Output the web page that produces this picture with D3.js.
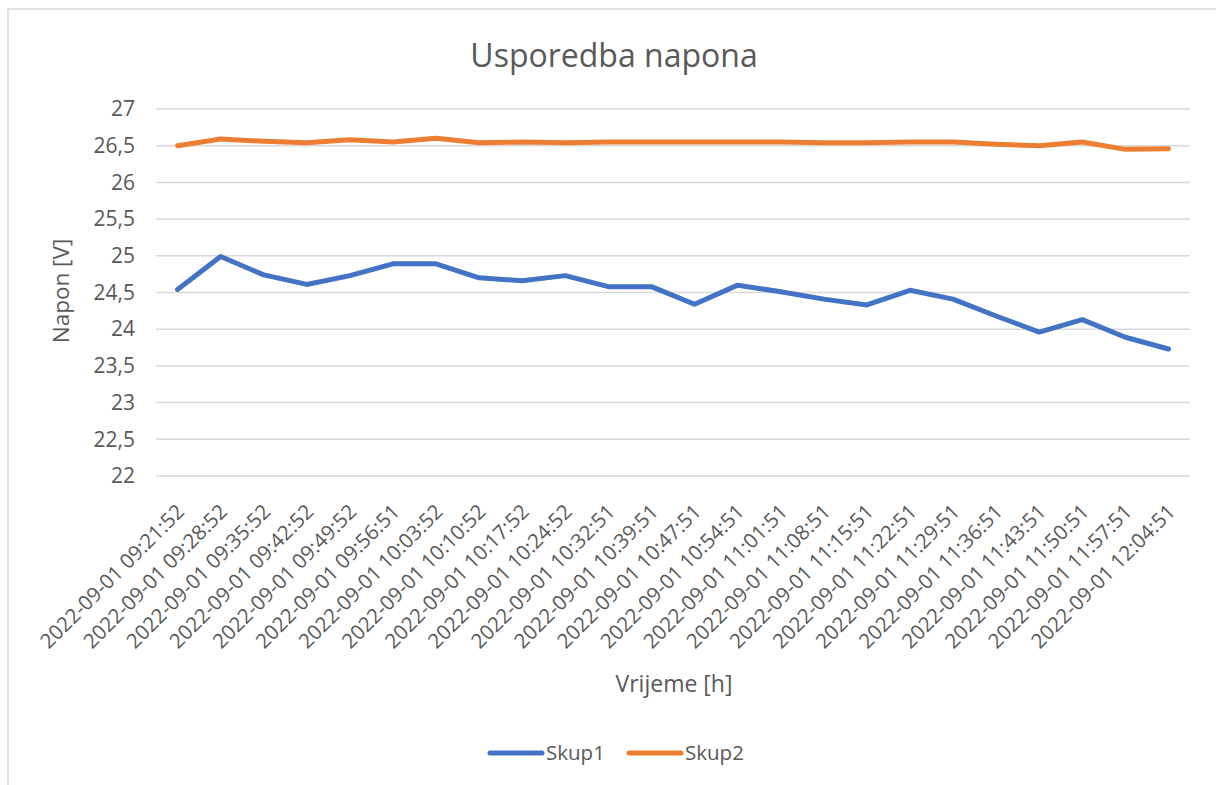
<!DOCTYPE html>
<html>
<head>
<meta charset="utf-8">
<script src="https://cdn.jsdelivr.net/npm/d3@7"></script>
<style>
  body { margin: 0; background: #fff; }
  text { font-family: "Open Sans", "Liberation Sans", sans-serif; fill: #595959; }
</style>
</head>
<body>
<script>
var times = ["2022-09-01 09:21:52", "2022-09-01 09:28:52", "2022-09-01 09:35:52", "2022-09-01 09:42:52",
  "2022-09-01 09:49:52", "2022-09-01 09:56:51", "2022-09-01 10:03:52", "2022-09-01 10:10:52",
  "2022-09-01 10:17:52", "2022-09-01 10:24:52", "2022-09-01 10:32:51", "2022-09-01 10:39:51",
  "2022-09-01 10:47:51", "2022-09-01 10:54:51", "2022-09-01 11:01:51", "2022-09-01 11:08:51",
  "2022-09-01 11:15:51", "2022-09-01 11:22:51", "2022-09-01 11:29:51", "2022-09-01 11:36:51",
  "2022-09-01 11:43:51", "2022-09-01 11:50:51", "2022-09-01 11:57:51", "2022-09-01 12:04:51"];

var skup1 = [24.54, 24.99, 24.74, 24.61, 24.73, 24.89, 24.89, 24.70, 24.66, 24.73, 24.58, 24.58,
  24.34, 24.60, 24.51, 24.41, 24.33, 24.53, 24.41, 24.18, 23.96, 24.13, 23.89, 23.73];

var skup2 = [26.50, 26.59, 26.56, 26.54, 26.58, 26.55, 26.60, 26.54, 26.55, 26.54, 26.55, 26.55,
  26.55, 26.55, 26.55, 26.54, 26.54, 26.55, 26.55, 26.52, 26.50, 26.55, 26.45, 26.46];

var yTicks = [22, 22.5, 23, 23.5, 24, 24.5, 25, 25.5, 26, 26.5, 27];

var seriesNames = ["Skup1", "Skup2"];
var colors = ["#4472C4", "#ED7D31"];

var w = 1216, h = 785;
var plotLeft = 156, plotRight = 1190, plotTop = 109, plotBottom = 476;

var svg = d3.select("body").append("svg")
  .attr("width", w)
  .attr("height", h);

// chart frame
svg.append("rect")
  .attr("x", 8).attr("y", 9)
  .attr("width", 1220).attr("height", 800)
  .attr("fill", "#fff")
  .attr("stroke", "#d9d9d9")
  .attr("stroke-width", 1.5);

var xScale = d3.scaleBand().domain(times).range([plotLeft, plotRight]).padding(0);
var yScale = d3.scaleLinear().domain([22, 27]).range([plotBottom, plotTop]);

// gridlines
svg.append("g")
  .selectAll("line")
  .data(yTicks)
  .enter().append("line")
  .attr("x1", plotLeft).attr("x2", plotRight)
  .attr("y1", function(d) { return yScale(d); })
  .attr("y2", function(d) { return yScale(d); })
  .attr("stroke", "#d9d9d9")
  .attr("stroke-width", 1.5);

// y axis labels
var yAxis = d3.axisLeft(yScale).tickValues(yTicks).tickSize(0).tickPadding(0)
  .tickFormat(function(d) { return String(d).replace(".", ","); });
var gy = svg.append("g").attr("transform", "translate(135,0)").call(yAxis);
gy.select(".domain").remove();
gy.selectAll("text").attr("font-size", 21).attr("fill", "#595959")
  .style("font-family", '"Open Sans", sans-serif');

// x axis labels, rotated
var xAxis = d3.axisBottom(xScale).tickSize(0).tickPadding(0);
var gx = svg.append("g").attr("transform", "translate(0," + plotBottom + ")").call(xAxis);
gx.select(".domain").remove();
gx.selectAll("text")
  .attr("font-size", 20.5)
  .attr("fill", "#595959")
  .style("font-family", '"Open Sans", sans-serif')
  .attr("text-anchor", "end")
  .attr("dy", null)
  .attr("y", 0)
  .attr("transform", "translate(8,37) rotate(-45)");

// lines
var line = d3.line()
  .x(function(d, i) { return xScale(times[i]) + xScale.bandwidth() / 2; })
  .y(function(d) { return yScale(d); });

[skup1, skup2].forEach(function(s, k) {
  svg.append("path")
    .attr("d", line(s))
    .attr("fill", "none")
    .attr("stroke", colors[k])
    .attr("stroke-width", 5)
    .attr("stroke-linejoin", "round")
    .attr("stroke-linecap", "round");
});

// title
svg.append("text").attr("x", 614).attr("y", 67).attr("text-anchor", "middle")
  .attr("font-size", 32).text("Usporedba napona");

// axis titles
svg.append("text").attr("x", 674).attr("y", 692).attr("text-anchor", "middle")
  .attr("font-size", 23).text("Vrijeme [h]");
svg.append("text").attr("transform", "translate(69,291) rotate(-90)").attr("text-anchor", "middle")
  .attr("font-size", 22.5).text("Napon [V]");

// legend
var legX = [488, 627];
seriesNames.forEach(function(name, k) {
  svg.append("line")
    .attr("x1", legX[k] + 2).attr("x2", legX[k] + 54)
    .attr("y1", 753).attr("y2", 753)
    .attr("stroke", colors[k]).attr("stroke-width", 5)
    .attr("stroke-linecap", "round");
  svg.append("text").attr("x", legX[k] + 58).attr("y", 760)
    .attr("font-size", 20.5).text(name);
});
</script>
</body>
</html>
